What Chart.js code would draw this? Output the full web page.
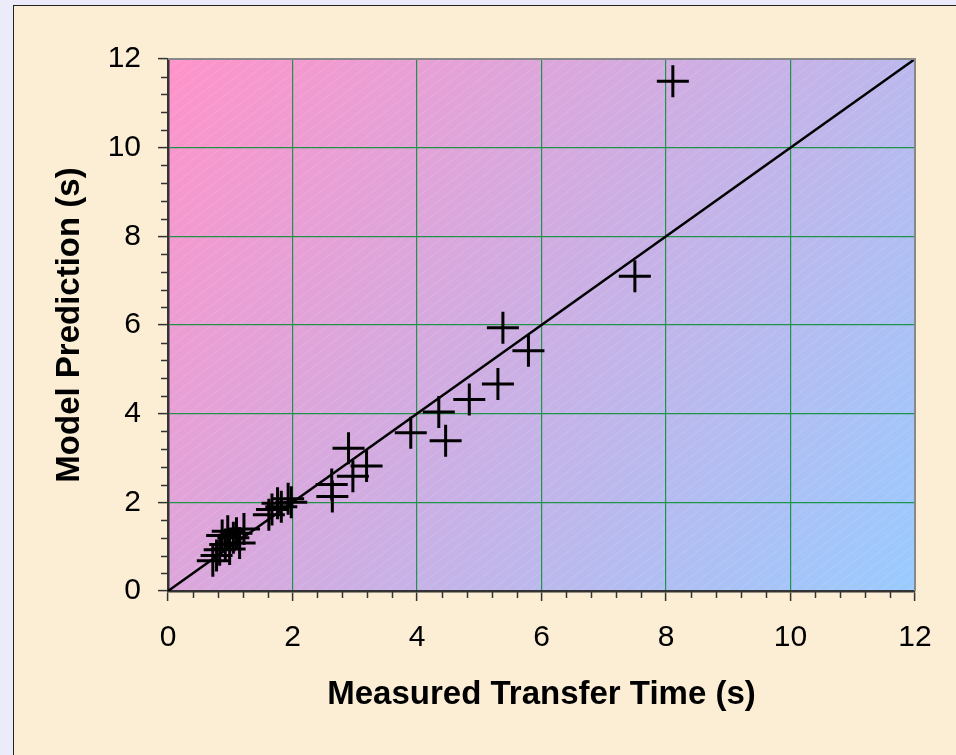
<!DOCTYPE html>
<html>
<head>
<meta charset="utf-8">
<script src="https://cdn.jsdelivr.net/npm/chart.js@4/dist/chart.umd.min.js"></script>
<style>
  html, body { margin: 0; padding: 0; overflow: hidden; background: #ebebfa; }
  #frame {
    position: absolute; left: 13px; top: 5px; width: 960px; height: 760px;
    background: #fbeed5; border: 1px solid #222;
  }
  #chart { position: absolute; left: 0; top: 0; }
</style>
</head>
<body>
<div id="frame"></div>
<canvas id="chart" width="956" height="755"></canvas>
<script>
// ---- DATA ----
const measured = [
  0.72, 0.78, 0.83, 0.87, 0.92, 0.96, 0.99, 1.05, 1.10, 1.15, 1.22,
  1.62, 1.67, 1.76, 1.82, 1.93, 1.98,
  2.63, 2.64, 2.90, 2.97, 3.19,
  3.90, 4.35, 4.46, 4.84, 5.30, 5.38, 5.79, 7.50, 8.11
];
const predicted = [
  0.68, 0.80, 0.93, 1.25, 1.05, 1.35, 0.95, 1.20, 1.30, 1.08, 1.40,
  1.72, 1.84, 1.98, 1.90, 2.08, 2.00,
  2.40, 2.13, 3.22, 2.59, 2.82,
  3.57, 4.04, 3.39, 4.32, 4.67, 5.94, 5.42, 7.10, 11.50
];
// ligne d'égalité y = x
const idealX = [0, 12];
const idealY = [0, 12];
const axisMin = 0;
const axisMax = 12;
const majorStep = 2;
const minorStep = 0.4;

const points = measured.map((x, i) => ({ x: x, y: predicted[i] }));
const ideal = idealX.map((x, i) => ({ x: x, y: idealY[i] }));

// fond dégradé + hachures dans la zone du graphique
const plotBackground = {
  id: "plotBackground",
  beforeDraw(chart) {
    const { ctx, chartArea: a } = chart;
    ctx.save();
    const g = ctx.createLinearGradient(a.left, a.top, a.right, a.bottom);
    g.addColorStop(0, "#ff93c9");
    g.addColorStop(1, "#99cbff");
    ctx.fillStyle = g;
    ctx.fillRect(a.left, a.top, a.right - a.left, a.bottom - a.top);
    ctx.beginPath();
    ctx.rect(a.left, a.top, a.right - a.left, a.bottom - a.top);
    ctx.clip();
    ctx.strokeStyle = "rgba(255,255,255,0.14)";
    ctx.lineWidth = 1;
    const h = a.bottom - a.top;
    for (let x = a.left - h * 1.3; x < a.right + 20; x += 13) {
      ctx.beginPath();
      ctx.moveTo(x, a.bottom);
      ctx.lineTo(x + h * 1.3, a.bottom - h);
      ctx.stroke();
    }
    ctx.restore();
  },
  afterDraw(chart) {
    const { ctx, chartArea: a } = chart;
    ctx.save();
    // bord gris haut / droite
    ctx.strokeStyle = "#888";
    ctx.lineWidth = 2;
    ctx.beginPath();
    ctx.moveTo(a.left, a.top);
    ctx.lineTo(a.right, a.top);
    ctx.lineTo(a.right, a.bottom);
    ctx.stroke();
    // petites graduations
    ctx.strokeStyle = "#333";
    ctx.lineWidth = 1.5;
    const xs = chart.scales.x, ys = chart.scales.y;
    for (let i = 0; i * minorStep <= axisMax + 1e-9; i++) {
      if (i % 5 === 0) continue;
      const v = i * minorStep;
      const px = Math.round(xs.getPixelForValue(v)) + 0.5;
      ctx.beginPath();
      ctx.moveTo(px, a.bottom);
      ctx.lineTo(px, a.bottom + 7);
      ctx.stroke();
      const py = Math.round(ys.getPixelForValue(v)) + 0.5;
      ctx.beginPath();
      ctx.moveTo(a.left, py);
      ctx.lineTo(a.left - 7, py);
      ctx.stroke();
    }
    ctx.restore();
  }
};

const tickFont = { family: "'Liberation Sans', Arial, sans-serif", size: 30 };
const titleFont = { family: "'Liberation Sans', Arial, sans-serif", size: 33, weight: "bold" };

new Chart(document.getElementById("chart"), {
  type: "scatter",
  data: {
    datasets: [
      {
        label: "Mesures",
        data: points,
        pointStyle: "cross",
        pointRadius: 16,
        pointHoverRadius: 16,
        pointBorderWidth: 3,
        borderColor: "#000",
        backgroundColor: "#000",
        order: 1
      },
      {
        type: "line",
        label: "y = x",
        data: ideal,
        borderColor: "#000",
        borderWidth: 2.5,
        pointRadius: 0,
        order: 0
      }
    ]
  },
  options: {
    responsive: false,
    animation: false,
    layout: { padding: { left: 0, top: 59, right: 41, bottom: 0 } },
    plugins: {
      legend: { display: false },
      tooltip: { enabled: false }
    },
    scales: {
      x: {
        type: "linear",
        min: axisMin,
        max: axisMax,
        afterFit(s) { s.height = 164; },
        ticks: { stepSize: majorStep, color: "#000", font: tickFont, padding: 19, maxRotation: 0 },
        grid: { color: "#1f9448", lineWidth: 1.2, tickColor: "#333", tickLength: 10, tickWidth: 1.5 },
        border: { color: "#333", width: 2.5 },
        title: { display: true, text: "Measured Transfer Time (s)", color: "#000", font: titleFont, padding: { top: 0, bottom: 40 } }
      },
      y: {
        type: "linear",
        min: axisMin,
        max: axisMax,
        afterFit(s) { s.width = 168; },
        ticks: { stepSize: majorStep, color: "#000", font: tickFont, padding: 17 },
        grid: { color: "#1f9448", lineWidth: 1.2, tickColor: "#333", tickLength: 10, tickWidth: 1.5 },
        border: { color: "#333", width: 2.5 },
        title: { display: true, text: "Model Prediction (s)", color: "#000", font: titleFont, padding: { top: 50, bottom: 0 } }
      }
    }
  },
  plugins: [plotBackground]
});
</script>
</body>
</html>
